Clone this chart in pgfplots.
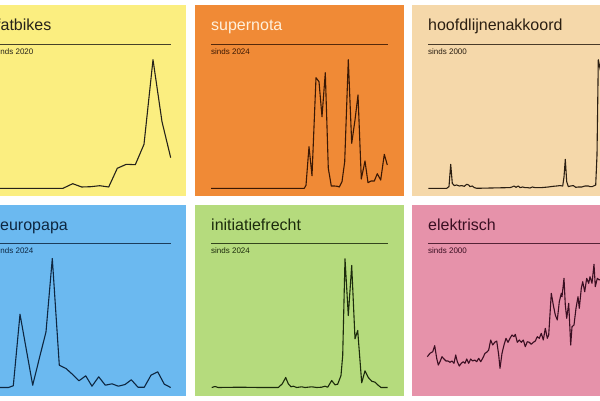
\documentclass[border=0pt]{standalone}
\usepackage{pgfplots}
\pgfplotsset{compat=1.18}
\usepackage{fontspec}
\setmainfont{Liberation Sans}

\definecolor{bgyellow}{HTML}{FBEE80}
\definecolor{bgorange}{HTML}{F08A36}
\definecolor{bgtan}{HTML}{F5D8AA}
\definecolor{bgblue}{HTML}{6BB9F0}
\definecolor{bggreen}{HTML}{B5DB7D}
\definecolor{bgpink}{HTML}{E692AA}
\definecolor{inkyellow}{HTML}{26231A}
\definecolor{inkorange}{HTML}{3A1804}
\definecolor{titleorange}{HTML}{FFF0DC}
\definecolor{inktan}{HTML}{2B1F12}
\definecolor{inkblue}{HTML}{0E2741}
\definecolor{inkgreen}{HTML}{1C2B0C}
\definecolor{inkpink}{HTML}{3A0F22}

\pgfplotsset{
  panel/.style={scale only axis, axis lines=none, clip=false, anchor=south west,
    ymin=0, every axis plot/.append style={line width=1.1pt, line join=round, no marks}},
  toprow/.style={height=128.6pt, ymax=128.6},
  botrow/.style={height=129pt, ymax=129},
}

\begin{document}
\begin{tikzpicture}
\clip (0pt,0pt) rectangle (600pt,400pt);
\fill[white] (0pt,0pt) rectangle (600pt,400pt);

% panels
\fill[bgyellow] (-22pt,204pt) rectangle (186pt,395pt);
\fill[bgorange] (195pt,204pt) rectangle (404pt,395pt);
\fill[bgtan]    (412pt,204pt) rectangle (630pt,395pt);
\fill[bgblue]   (-22pt,4pt) rectangle (186pt,195pt);
\fill[bggreen]  (195pt,4pt) rectangle (404pt,195pt);
\fill[bgpink]   (412pt,4pt) rectangle (630pt,195pt);

% titles
\begin{scope}[every node/.style={anchor=base west, inner sep=0pt}]
\node[font=\fontsize{16pt}{18pt}\selectfont, text=inkyellow] at (-4pt,369pt) {fatbikes};
\node[font=\fontsize{16pt}{18pt}\selectfont, text=titleorange] at (211pt,369pt) {supernota};
\node[font=\fontsize{16pt}{18pt}\selectfont, text=inktan] at (428pt,369pt) {hoofdlijnenakkoord};
\node[font=\fontsize{16pt}{18pt}\selectfont, text=inkblue] at (0pt,169.3pt) {europapa};
\node[font=\fontsize{16pt}{18pt}\selectfont, text=inkgreen] at (211pt,169.3pt) {initiatiefrecht};
\node[font=\fontsize{16pt}{18pt}\selectfont, text=inkpink] at (428pt,169.3pt) {elektrisch};

\node[font=\fontsize{8pt}{9pt}\selectfont, text=inkyellow] at (-5.5pt,345.7pt) {sinds 2020};
\node[font=\fontsize{8pt}{9pt}\selectfont, text=inkorange] at (211pt,345.7pt) {sinds 2024};
\node[font=\fontsize{8pt}{9pt}\selectfont, text=inktan] at (428pt,345.7pt) {sinds 2000};
\node[font=\fontsize{8pt}{9pt}\selectfont, text=inkblue] at (-5.5pt,146.7pt) {sinds 2024};
\node[font=\fontsize{8pt}{9pt}\selectfont, text=inkgreen] at (211pt,146.7pt) {sinds 2024};
\node[font=\fontsize{8pt}{9pt}\selectfont, text=inkpink] at (428pt,146.7pt) {sinds 2000};
\end{scope}

% rules under the titles
\draw[line width=0.9pt, inkyellow!85!bgyellow] (-4pt,356pt) -- (171pt,356pt);
\draw[line width=0.9pt, inkorange!85!bgorange] (211pt,356pt) -- (388pt,356pt);
\draw[line width=0.9pt, inktan!85!bgtan] (428pt,356pt) -- (610pt,356pt);
\draw[line width=0.9pt, inkblue!85!bgblue] (-4pt,156.3pt) -- (171pt,156.3pt);
\draw[line width=0.9pt, inkgreen!85!bggreen] (211pt,156.3pt) -- (388pt,156.3pt);
\draw[line width=0.9pt, inkpink!85!bgpink] (428pt,156.3pt) -- (610pt,156.3pt);

% fatbikes
\begin{axis}[panel, toprow, at={(-5pt,211.7pt)}, width=176pt, xmin=-5, xmax=171]
\addplot[inkyellow] coordinates {
(-5,0) (63,0) (72.7,4.6) (81.7,1.3) (90.7,1.6) (99.7,2.6) (108.7,1.3)
(117.3,20) (126.3,24) (135.3,23.6) (144,44) (153,128.6) (162,66.6) (170.7,30.6)
};
\end{axis}

% supernota
\begin{axis}[panel, toprow, at={(211pt,211.7pt)}, width=177pt, xmin=211, xmax=388]
\addplot[inkorange] coordinates {
(211,0) (304.3,0) (306,3) (309,41.6) (312,12.6) (316,110.6) (319,106.6)
(322,71.6) (325.3,115.6) (328.3,20) (331.3,2.3) (334.3,2.3) (337.3,2)
(339.3,1.3) (342,6.6) (344.7,26.6) (348.3,128.6) (351.7,45) (355,68.3)
(358,93.3) (361.3,9.3) (365,27.3) (368,5.6) (371,7.3) (374.3,7.3)
(377.3,14.6) (380.7,8.3) (384.3,34) (387.3,23.3)
};
\end{axis}

% hoofdlijnenakkoord
\begin{axis}[panel, toprow, at={(428pt,211.7pt)}, width=172pt, xmin=428, xmax=600]
\addplot[inktan] coordinates {
(428.3,0) (446.7,0) (449,1.7) (450.7,24) (452.3,5) (454.3,2.7) (456.7,3.3)
(459.3,2.3) (461.7,2.7) (464.3,2) (466.7,4) (468.7,3.3) (470,1.7) (472.3,2.3)
(474.3,0.7) (476.7,0) (510,0.7) (512,1.3) (514,2.3) (516,1) (518.3,2.3)
(520,0.7) (522.7,1.3) (525,0.7) (527.3,0.7) (530,0.3) (532.3,1.3) (535,0.7)
(538.3,0.7) (541.7,0.7) (545,1) (548.3,1.3) (553.3,2) (556.7,2.3) (560,2.7)
(562.7,2.3) (564,11.3) (565.3,29) (566.7,6.7) (568.3,1.7) (570.7,2.3)
(573.3,2.7) (575.7,1) (578.3,1.3) (581.7,1.3) (585,2.3) (588.3,2.3) (590,1.7)
(592.3,1.7) (594.3,2.7) (595.7,3.3) (597,33.3) (598.3,128.6) (602,110)
};
\end{axis}

% europapa
\begin{axis}[panel, botrow, at={(-5pt,12.5pt)}, width=176pt, xmin=-5, xmax=171]
\addplot[inkblue] coordinates {
(-5,0) (8.3,0) (13.3,1.7) (20,73.3) (26.3,38) (32.7,2.3) (39.3,29) (46,55.7)
(52.3,129) (59.3,22.3) (66,19) (72.3,13.3) (79,6.7) (85.7,11.7) (92,1.3)
(98.7,10.7) (105.3,2.3) (112,3.7) (118.3,1.3) (125,3) (131.3,7.7) (138,0.3)
(144.3,0.3) (151,12.3) (157.7,15.7) (164.3,3.3) (170.7,0)
};
\end{axis}

% initiatiefrecht
\begin{axis}[panel, botrow, at={(211pt,12.5pt)}, width=177pt, xmin=211, xmax=388]
\addplot[inkgreen] coordinates {
(211.7,0) (215,1) (218.3,0) (240,0.3) (260,0) (278.3,0) (282.3,3.7)
(285.7,10) (288.3,3.7) (291,0.7) (293.3,1.3) (296.7,0) (301.7,0.7) (305,0)
(311.7,0.7) (316.7,0) (321.7,0.3) (325,1.3) (327.7,0.3) (331.7,7) (335,2.7)
(337.7,3.3) (341,12) (342.7,32) (345,128.7) (348.3,72) (351.7,122)
(355,48.7) (357.7,57) (361.7,4.7) (365,16.7) (368.3,10) (371.7,6.3)
(375,5.3) (377.7,2.7) (381,0) (387.7,0)
};
\end{axis}

% elektrisch
\begin{axis}[panel, botrow, at={(428pt,12.5pt)}, width=172pt, xmin=428, xmax=600]
\addplot[inkpink] coordinates {
(427.3,30.8) (430,34.2) (432.7,35.8) (434.7,41.8) (436.7,29.2) (438.3,22.5)
(440,25.8) (442,30.8) (444,28.5) (446,26.5) (448,26.5) (450,25.2) (452,26.5)
(454,24.2) (455.7,32.5) (457.3,25.8) (459.3,21.5) (461.3,24.2) (463.3,25.8)
(465,24.2) (466.7,28.5) (468.7,24.2) (470.7,28.5) (472.7,26.5) (474.7,27.5)
(476.7,25.8) (478.7,29.2) (480.7,25.8) (482.7,29.2) (485,34.2) (486.7,35.2)
(488.7,37.5) (490.7,47.5) (492.7,42.5) (494.7,45.2) (496.7,46.5) (498.7,32.5)
(500,19.2) (502,34.2) (504,42.5) (506,49.2) (508,45.2) (510,49.2) (512,52.5)
(514,50.8) (515.3,53.2) (517.3,45.2) (519.3,47.5) (521.3,45.2) (523.3,47.5)
(525.3,40.8) (527.3,45.8) (529.3,45.2) (531.3,43.2) (533.3,45.2) (535.3,46.5)
(537.3,50.8) (539.3,49.2) (541.3,54.2) (543.3,47.5) (545.3,59.2) (547.3,49.2)
(548.7,52.5) (551.3,94.2) (553.3,82.5) (555.3,72.5) (557.3,67.5) (559.3,85.8)
(561.3,94.2) (562,90.8) (564,109.2) (565.3,82.5) (566.7,69.2) (568.7,84.2)
(570.7,42.5) (572,60.8) (574,62.5) (576,79.2) (578,90.8) (579.3,79.2)
(581.3,99.2) (582.7,105.8) (584.7,95.8) (586.7,109.2) (588.7,104.2)
(590,110.8) (592,104.2) (594,123.2) (595.3,100.8) (597.3,109.2)
(599.3,107.5) (602,109.2) (605,104)
};
\end{axis}
\end{tikzpicture}
\end{document}
